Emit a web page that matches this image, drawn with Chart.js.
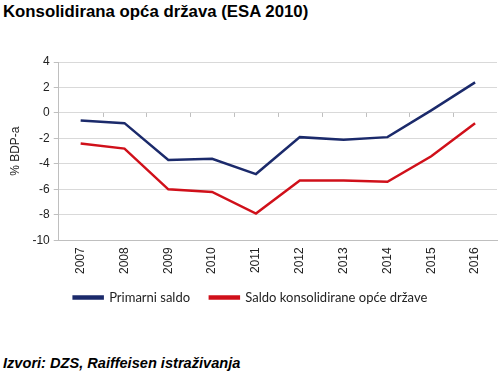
<!DOCTYPE html>
<html>
<head>
<meta charset="utf-8">
<script src="https://cdn.jsdelivr.net/npm/chart.js@4/dist/chart.umd.min.js"></script>
<style>
  html, body { margin: 0; padding: 0; background: #fff; }
  body { width: 500px; height: 376px; position: relative; overflow: hidden; }
  .title { position: absolute; left: 3px; top: 2px; font: bold 16.8px "Liberation Sans", sans-serif; color: #000; }
  .source { position: absolute; left: 3px; top: 355px; font: italic bold 14.6px "Liberation Sans", sans-serif; color: #000; }
  .chart-wrap { position: absolute; left: 0; top: 40px; width: 500px; height: 274px; }
</style>
</head>
<body>
<div class="title">Konsolidirana opća država (ESA 2010)</div>
<div class="chart-wrap"><canvas id="fiscalChart"></canvas></div>
<div class="source">Izvori: DZS, Raiffeisen istraživanja</div>
<script>
const years = ['2007', '2008', '2009', '2010', '2011', '2012', '2013', '2014', '2015', '2016'];
const primarniSaldo = [-0.6, -0.8, -3.7, -3.6, -4.8, -1.9, -2.1, -1.9, 0.2, 2.4];
const ukupniSaldo = [-2.4, -2.8, -6.0, -6.2, -7.9, -5.3, -5.3, -5.4, -3.4, -0.8];
const seriesNames = ['Primarni saldo', 'Saldo konsolidirane opće države'];

// small tick marks on the zero line between categories, like the Excel original
const zeroTicks = {
  id: 'zeroTicks',
  afterDatasetsDraw(chart) {
    const { ctx, scales: { x, y } } = chart;
    const y0 = y.getPixelForValue(0);
    const step = x.getPixelForTick(1) - x.getPixelForTick(0);
    ctx.save();
    ctx.strokeStyle = '#bfbfbf';
    ctx.lineWidth = 1;
    ctx.beginPath();
    for (let i = 1; i < years.length; i++) {
      const px = Math.round(x.getPixelForTick(i) - step / 2) + 0.5;
      ctx.moveTo(px, y0);
      ctx.lineTo(px, y0 + 4);
    }
    ctx.stroke();
    ctx.restore();
  }
};

new Chart(document.querySelector('#fiscalChart'), {
  type: 'line',
  data: {
    labels: years,
    datasets: [
      { label: seriesNames[0], data: primarniSaldo, borderColor: '#1b2a6b', backgroundColor: '#1b2a6b', borderWidth: 2.5, pointRadius: 0, tension: 0 },
      { label: seriesNames[1], data: ukupniSaldo, borderColor: '#d0101a', backgroundColor: '#d0101a', borderWidth: 2.5, pointRadius: 0, tension: 0 }
    ]
  },
  options: {
    responsive: true,
    maintainAspectRatio: false,
    animation: false,
    layout: { padding: { top: 22, right: 3, left: 4, bottom: 0 } },
    plugins: {
      legend: {
        position: 'bottom',
        labels: {
          boxWidth: 29,
          boxHeight: 2,
          padding: 10,
          color: '#222',
          font: { family: 'Lato', size: 13 },
          // wider gap between the two entries without extra vertical padding
          generateLabels: (chart) => Chart.defaults.plugins.legend.labels.generateLabels(chart)
            .map((item, i) => (i === 0 ? { ...item, text: item.text + '\u2003' } : item))
        }
      },
      tooltip: { enabled: false }
    },
    scales: {
      x: {
        offset: true,
        grid: { display: false, drawTicks: false },
        border: { color: '#bfbfbf' },
        ticks: { minRotation: 90, maxRotation: 90, color: '#222', padding: 7, font: { family: 'Liberation Sans', size: 12 } }
      },
      y: {
        min: -10,
        max: 4,
        ticks: { stepSize: 2, color: '#222', padding: 4, font: { family: 'Liberation Sans', size: 12 } },
        grid: { color: '#d9d9d9', tickLength: 5, tickColor: '#bfbfbf' },
        border: { color: '#bfbfbf' },
        title: { display: true, text: '% BDP-a', color: '#222', padding: { bottom: 6 }, font: { family: 'Liberation Sans', size: 12 } }
      }
    }
  },
  plugins: [zeroTicks]
});
</script>
</body>
</html>
